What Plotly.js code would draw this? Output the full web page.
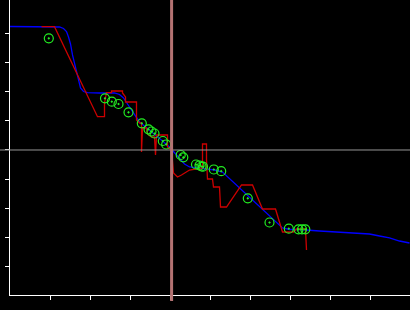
<!DOCTYPE html>
<html>
<head>
<meta charset="utf-8">
<script src="https://cdn.plot.ly/plotly-3.0.1.min.js"></script>
<style>html,body{margin:0;padding:0;background:#000;}#chart{width:410px;height:310px;}</style>
</head>
<body>
<div id="chart"></div>
<script>
// Smooth fitted curve (blue)
const fitX = [0, 1.1125, 1.2375, 1.3375, 1.4125, 1.4625, 1.5125, 1.5625, 1.6125, 1.6625, 1.7125, 1.7625, 1.8375, 1.9375, 2.2375, 2.6125, 2.7375, 2.8375, 2.9375, 3.0375, 3.1375, 3.2375, 3.3625, 3.4875, 3.6625, 3.8125, 3.9875, 4.1125, 4.2375, 4.3625, 4.4875, 4.6625, 4.8625, 5.1125, 5.3125, 5.7375, 5.9875, 6.3625, 6.8125, 6.9875, 7.2375, 7.7375, 8.2375, 8.6125, 8.9875, 9.2375, 9.4875, 9.7375, 9.9875];
const fitY = [9.259, 9.259, 9.241, 9.190, 9.086, 8.897, 8.655, 8.276, 7.966, 7.655, 7.345, 7.138, 7.017, 6.976, 6.966, 6.966, 6.914, 6.793, 6.586, 6.379, 6.138, 5.966, 5.828, 5.690, 5.483, 5.310, 5.103, 4.897, 4.690, 4.517, 4.414, 4.379, 4.362, 4.310, 4.241, 3.690, 3.362, 2.862, 2.310, 2.259, 2.259, 2.207, 2.172, 2.138, 2.103, 2.034, 1.966, 1.862, 1.793];

// Step / raw line (red)
const rawX = [0.7875, 1.1125, 2.1875, 2.3625, 2.3625, 2.4125, 2.5375, 2.5375, 2.8125, 2.8125, 2.8875, 2.8875, 3.1625, 3.1625, 3.2375, 3.2875, 3.2875, 3.3125, 3.4125, 3.4375, 3.5375, 3.6125, 3.6375, 3.6625, 3.6625, 3.9375, 3.9375, 4.0375, 4.0875, 4.1875, 4.2875, 4.4875, 4.7375, 4.8125, 4.8125, 4.9125, 4.9125, 4.9375, 4.9375, 5.0625, 5.0875, 5.2375, 5.2625, 5.4125, 5.7875, 6.0625, 6.3125, 6.6375, 6.8125, 7.0875, 7.1625, 7.3875, 7.4125];
const rawY = [9.252, 9.252, 6.148, 6.148, 6.621, 6.976, 6.976, 7.034, 7.034, 6.966, 6.828, 6.655, 6.655, 6.034, 5.931, 5.931, 4.931, 5.759, 5.759, 5.552, 5.448, 5.448, 4.828, 5.414, 5.517, 5.517, 5.103, 5.0, 4.207, 4.069, 4.138, 4.310, 4.379, 4.379, 5.207, 5.207, 4.655, 4.207, 4.0, 4.0, 3.724, 3.724, 3.034, 3.034, 3.793, 3.793, 2.966, 2.966, 2.172, 2.172, 2.276, 2.276, 1.552];

// Observations (green circles)
const obsX = [0.97, 2.375, 2.545, 2.7125, 2.9625, 3.295, 3.4625, 3.5375, 3.6125, 3.82, 3.905, 4.2675, 4.3325, 4.65, 4.7375, 4.7875, 4.825, 5.095, 5.28, 5.945, 6.4875, 6.97, 7.2125, 7.3, 7.3825];
const obsY = [8.852, 6.783, 6.666, 6.586, 6.300, 5.921, 5.714, 5.638, 5.569, 5.310, 5.190, 4.828, 4.748, 4.5, 4.466, 4.431, 4.424, 4.328, 4.269, 3.334, 2.5, 2.286, 2.266, 2.266, 2.266];

// Reference lines
const refX = 4.04;
const refY = 5;
const tickValues = [1, 2, 3, 4, 5, 6, 7, 8, 9];

const traces = [
  {x: fitX, y: fitY, mode: 'lines', line: {color: '#0000ff', width: 1.3}, hoverinfo: 'skip'},
  {x: rawX, y: rawY, mode: 'lines', line: {color: '#cc0000', width: 1.3}, hoverinfo: 'skip'},
  {x: obsX, y: obsY, mode: 'markers', marker: {symbol: 'circle-open-dot', size: 9, color: '#22ee22', line: {width: 1.2, color: '#22ee22'}}, hoverinfo: 'skip'}
];

const axisCommon = {
  showgrid: false, zeroline: false, showline: true, linecolor: '#ffffff', linewidth: 1,
  ticks: 'outside', ticklen: 4, tickwidth: 1, tickcolor: '#ffffff',
  showticklabels: false, tickmode: 'array', tickvals: tickValues
};

const layout = {
  width: 410, height: 310,
  margin: {l: 10, r: 0, t: 0, b: 15},
  paper_bgcolor: '#000000', plot_bgcolor: '#000000',
  showlegend: false,
  xaxis: Object.assign({range: [0, 10]}, axisCommon),
  yaxis: Object.assign({range: [0, 10.172]}, axisCommon),
  shapes: [
    {type: 'line', xref: 'paper', yref: 'y', x0: -0.025, x1: 1, y0: refY, y1: refY, line: {color: 'rgb(150,150,150)', width: 1}, layer: 'above'},
    {type: 'line', xref: 'x', yref: 'paper', x0: refX, x1: refX, y0: -0.02, y1: 1.02, line: {color: 'rgb(180,115,115)', width: 3}, layer: 'above'}
  ]
};

Plotly.newPlot('chart', traces, layout, {staticPlot: true, displayModeBar: false});
</script>
</body>
</html>
